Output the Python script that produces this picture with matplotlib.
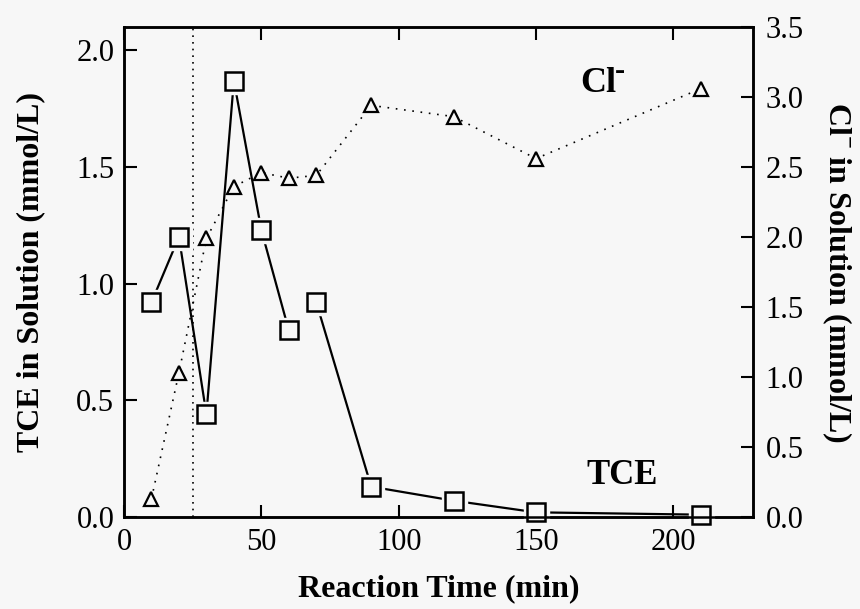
import matplotlib
matplotlib.use("Agg")
import numpy as np
import matplotlib.pyplot as plt

# reaction time (min)
time_min = [10, 20, 30, 40, 50, 60, 70, 90, 120, 150, 210]
# TCE in solution (mmol/L), left axis
tce = [0.92, 1.20, 0.44, 1.87, 1.23, 0.80, 0.92, 0.13, 0.07, 0.02, 0.01]
# Cl- in solution (mmol/L), right axis
chloride = [0.13, 1.03, 1.99, 2.36, 2.46, 2.42, 2.44, 2.94, 2.86, 2.56, 3.06]
# the TCE curve is broken between 60 and 70 min
tce_break = 6
marker_time = 25

x_ticks = [0, 50, 100, 150, 200]
left_ticks = [0.0, 0.5, 1.0, 1.5, 2.0]
right_ticks = [0.0, 0.5, 1.0, 1.5, 2.0, 2.5, 3.0, 3.5]

bg = "#f7f7f7"
plt.rcParams["font.family"] = ["Liberation Serif", "DejaVu Serif"]
plt.rcParams["mathtext.fontset"] = "custom"
plt.rcParams["mathtext.rm"] = "Liberation Serif"
plt.rcParams["mathtext.bf"] = "Liberation Serif:bold"

fig = plt.figure(figsize=(8.6, 6.09), dpi=100, facecolor=bg)
ax = fig.add_axes([124 / 860, 1 - 517 / 609, (753 - 124) / 860, (517 - 27) / 609])
ax.set_facecolor(bg)
ax2 = ax.twinx()

# vertical dotted marker line
ax.axvline(marker_time, color="black", lw=1.2, linestyle=(0, (1, 3)), zorder=1)

# TCE: solid line in two pieces, squares with a halo so lines stop short
ax.plot(time_min[:tce_break], tce[:tce_break], color="black", lw=1.6, zorder=2)
ax.plot(time_min[tce_break:], tce[tce_break:], color="black", lw=1.6, zorder=2)
ax.plot(time_min, tce, linestyle="none", marker="s", markersize=18,
        markerfacecolor=bg, markeredgecolor=bg, zorder=3, clip_on=False)
ax.plot(time_min, tce, linestyle="none", marker="s", markersize=12.5,
        markerfacecolor=bg, markeredgecolor="black", markeredgewidth=1.8,
        zorder=4, clip_on=False)

# Cl-: dotted line with triangles
ax2.plot(time_min, chloride, color="black", lw=1.2, linestyle=(0, (1, 4)),
         marker="^", markersize=10, markerfacecolor=bg,
         markeredgecolor="black", markeredgewidth=1.6, clip_on=False)

ax.set_xlim(0, 229)
ax.set_ylim(0, 2.1)
ax2.set_ylim(0, 3.5)

ax.set_xticks(x_ticks)
ax.set_yticks(left_ticks)
ax2.set_yticks(right_ticks)
ax.set_yticklabels([f"{v:.1f}" for v in left_ticks])
ax2.set_yticklabels([f"{v:.1f}" for v in right_ticks])

ax.tick_params(axis="x", direction="in", length=9, width=1.5, labelsize=22,
               pad=8, top=True)
ax.tick_params(axis="y", direction="in", length=9, width=1.5, labelsize=22, pad=7)
ax2.tick_params(axis="y", direction="in", length=9, width=1.5, labelsize=22, pad=9)
for a in (ax, ax2):
    for s in a.spines.values():
        s.set_linewidth(1.8)

ax.set_xlabel("Reaction Time (min)", fontsize=23, fontweight="bold", labelpad=12)
ax.set_ylabel("TCE in Solution (mmol/L)", fontsize=23, fontweight="bold", labelpad=22)
ax2.set_ylabel(r"Cl$^{\mathbf{-}}$ in Solution (mmol/L)", fontsize=23,
               fontweight="bold", rotation=270, labelpad=36)

ax.text(172.7, 1.86, "Cl", fontsize=26, fontweight="bold", ha="center", va="center")
ax.text(180.5, 1.91, "-", fontsize=22, fontweight="bold", ha="center", va="center")
ax.text(181.4, 0.18, "TCE", fontsize=25, fontweight="bold", ha="center", va="center")

fig.savefig("out.png", dpi=100, facecolor=bg)
